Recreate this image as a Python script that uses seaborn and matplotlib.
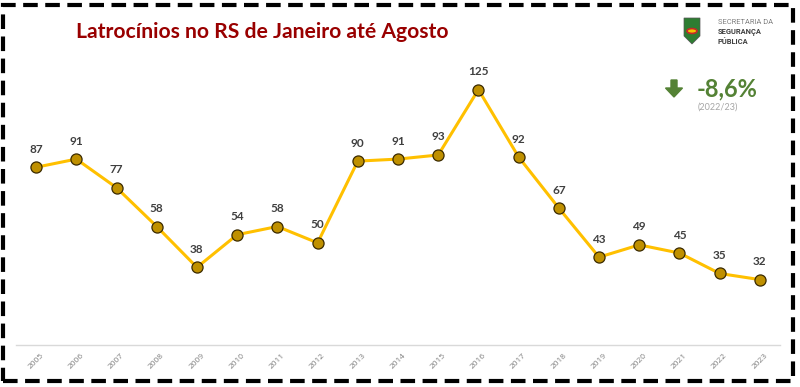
import matplotlib
matplotlib.use("Agg")
import matplotlib.pyplot as plt
import seaborn as sns
import pandas as pd
from matplotlib.patches import Rectangle, FancyArrow, Polygon, Circle

years = [str(y) for y in range(2005, 2024)]
values = [87, 91, 77, 58, 38, 54, 58, 50, 90, 91, 93, 125, 92, 67, 43, 49, 45, 35, 32]
title = "Latrocínios no RS de Janeiro até Agosto"
change_text = "-8,6%"
change_period = "(2022/23)"
logo_lines = ["SECRETARIA DA", "SEGURANÇA", "PÚBLICA"]

df = pd.DataFrame({"ano": years, "valor": values})

sns.set_theme(style="white")
plt.rcParams['font.family'] = ['Lato', 'DejaVu Sans']

W, H = 800, 387
fig = plt.figure(figsize=(8, 3.87), dpi=100)
ax = fig.add_axes([16 / W, 1 - 345 / H, (780 - 16) / W, (345 - 60) / H])

sns.lineplot(data=df, x="ano", y="valor", ax=ax, color="#FFC000", lw=2.2,
             marker="o", markersize=8, markerfacecolor="#BF9000",
             markeredgecolor="#3a2a00", markeredgewidth=0.9, sort=False)

ax.set_xlim(-0.5, len(years) - 0.5)
ax.set_ylim(0, 139.5)
ax.set_xlabel("")
ax.set_ylabel("")
ax.set_yticks([])
for s in ["top", "right", "left"]:
    ax.spines[s].set_visible(False)
ax.spines["bottom"].set_color("#d9d9d9")
ax.spines["bottom"].set_linewidth(1)
ax.tick_params(axis="x", length=0, pad=5, labelsize=6, labelcolor="#7f7f7f")
for lab in ax.get_xticklabels():
    lab.set_rotation(45)
    lab.set_ha("center")
    lab.set_fontfamily(["Open Sans", "DejaVu Sans"])

for i, v in enumerate(values):
    ax.annotate(str(v), (i, v), xytext=(0, 9), textcoords="offset points",
                ha="center", va="bottom", fontsize=8.5, fontweight="bold",
                color="#404040")

# dashed frame
frame = Rectangle((3 / W, 1 - 381 / H), (793 - 3) / W, (381 - 5) / H,
                  transform=fig.transFigure, fill=False, edgecolor="black",
                  linewidth=3, linestyle=(0, (3.5, 1.8)))
fig.patches.append(frame)

# title
fig.text(76 / W, 1 - 32 / H, title, color="#990000", fontsize=15.2,
         fontweight="bold", ha="left", va="center")

# simple logo emblem
fig.patches.append(Polygon([(684 / W, 1 - 18 / H), (700 / W, 1 - 18 / H),
                            (700 / W, 1 - 36 / H), (692 / W, 1 - 44 / H),
                            (684 / W, 1 - 36 / H)], closed=True,
                           transform=fig.transFigure, facecolor="#2e7d32",
                           edgecolor="#555555", lw=0.5))
fig.patches.append(Circle((692 / W, 1 - 31 / H), 5 / W,
                          transform=fig.transFigure, facecolor="#f2c500",
                          edgecolor="#c62828", lw=1.2))
for k, line in enumerate(logo_lines):
    fig.text(718 / W, 1 - (22 + k * 10) / H, line, fontsize=5.4,
             color="#7f7f7f" if k == 0 else "#404040",
             fontweight="normal" if k == 0 else "bold",
             ha="left", va="center", family=["Roboto", "DejaVu Sans"])

# down arrow
fig.patches.append(FancyArrow(674 / W, 1 - 80 / H, 0, -17 / H, width=6 / W,
                              head_width=17 / W, head_length=9 / H,
                              length_includes_head=True,
                              transform=fig.transFigure, color="#548235"))
fig.text(697 / W, 1 - 89 / H, change_text, color="#548235", fontsize=17,
         fontweight="bold", ha="left", va="center")
fig.text(718 / W, 1 - 107 / H, change_period, color="#a6a6a6", fontsize=6.5,
         ha="center", va="center")

fig.savefig("out.png", dpi=100, facecolor="white")
